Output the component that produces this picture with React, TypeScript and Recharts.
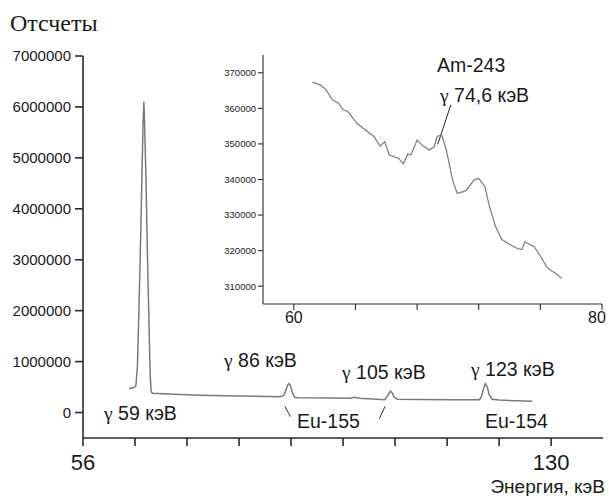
import React from 'react';
import { LineChart, Line, XAxis, YAxis, ReferenceLine } from 'recharts';

// main spectrum (axis units as printed, 56..130)
const energy = [
  63.26, 63.89, 64.36, 64.6, 64.84, 65.07, 65.31, 65.5, 65.62, 65.73, 65.97, 66.2, 66.44, 66.63, 66.79, 67.0,
  70.5, 74.46, 80.77, 87.08, 87.71, 88.02, 88.34, 88.58, 88.81, 89.13, 89.45, 89.92, 94.97, 98.13, 98.92,
  99.7, 103.65, 104.12, 104.6, 104.91, 105.2, 105.7, 109.17, 113.9, 118.64, 118.95, 119.27, 119.59, 119.9,
  120.22, 120.69, 121.8, 127.0,
];
const counts = [
  470000, 480000, 520000, 900000, 2000000, 3200000, 4600000, 5700000, 6100000, 5700000, 4500000, 3000000,
  1700000, 700000, 400000, 380000, 360000, 340000, 325000, 310000, 330000, 420000, 540000, 570000, 520000,
  380000, 300000, 290000, 285000, 280000, 300000, 280000, 250000, 320000, 420000, 380000, 300000, 260000,
  255000, 250000, 250000, 300000, 450000, 570000, 500000, 350000, 260000, 245000, 220000,
];

// inset: zoom on the Am-243 region
const insetEnergy = [
  61.2, 61.7, 62.1, 62.5, 62.9, 63.2, 63.5, 64.1, 64.5, 65.2, 65.6, 65.9, 66.2, 66.8, 67.1, 67.4, 67.6, 68.0,
  68.4, 68.8, 69.1, 69.3, 69.6, 69.9, 70.3, 70.6, 71.0, 71.2, 71.7, 72.0, 72.4, 72.7, 73.1, 73.5, 74.0, 74.5,
  74.8, 75.0, 75.6, 76.0, 76.4, 76.6, 77.0, 77.4,
];
const insetCounts = [
  367400, 366600, 365200, 362400, 361500, 359600, 359100, 355800, 354400, 352100, 349400, 350600, 346900,
  346000, 344400, 347200, 346900, 351100, 349400, 348300, 349200, 352100, 352500, 348300, 339900, 336100,
  336600, 337000, 339900, 340300, 338000, 332300, 326700, 323100, 321800, 320600, 320300, 322500, 321100,
  318500, 315500, 314700, 313600, 312200,
];

const mainXTicks = [56, 64.22, 72.44, 80.67, 88.89, 97.11, 105.33, 113.56, 121.78, 130];
const mainXLabels = [56, 130];
const mainYTicks = [0, 1000000, 2000000, 3000000, 4000000, 5000000, 6000000, 7000000];
const mainYMinor = [500000, 1500000, 2500000, 3500000, 4500000, 5500000, 6500000];
const insetXTicks = [60, 64, 68, 72, 76, 80];
const insetXMinor = [58, 62, 66, 70, 74, 78];
const insetXLabels = [60, 80];
const insetYTicks = [310000, 320000, 330000, 340000, 350000, 360000, 370000];
const insetYMinor = [315000, 325000, 335000, 345000, 355000, 365000];

const mainData = energy.map((e, i) => ({ energy: e, counts: counts[i] }));
const insetData = insetEnergy.map((e, i) => ({ energy: e, counts: insetCounts[i] }));

const SANS = '"Liberation Sans", Arial, sans-serif';
const SERIF = '"Liberation Serif", "Times New Roman", serif';
const AXIS = '#2a2a2a';
const INK = '#1a1a1a';

const MAIN_X = [56, 138.2];
const MAIN_Y = [-500000, 7000000];
const INSET_X = [58, 80];
const INSET_Y = [305000, 375000];

// label-only ticks; the marks come from recharts' own tickLine
const MainYLabel = (props: any) => (
  <text x={props.x - 4} y={props.y} dy="0.36em" textAnchor="end" fontSize={15} fontFamily={SANS} fill={INK}>
    {props.payload.value}
  </text>
);

const MainXLabel = (props: any) => {
  const v = props.payload.value;
  if (!mainXLabels.some((l) => Math.abs(l - v) < 0.01)) return <g />;
  return (
    <text x={props.x} y={props.y + 16} dy="0.36em" textAnchor="middle" fontSize={22} fontFamily={SANS} fill={INK}>
      {Math.round(v)}
    </text>
  );
};

const InsetYLabel = (props: any) => (
  <text x={props.x - 2} y={props.y} dy="0.36em" textAnchor="end" fontSize={9.5} fontFamily={SANS} fill={INK}>
    {props.payload.value}
  </text>
);

const InsetXLabel = (props: any) => {
  const v = props.payload.value;
  if (!insetXLabels.includes(v)) return <g />;
  return (
    <text
      x={v === 80 ? props.x - 5 : props.x}
      y={props.y + 7}
      dy="0.36em"
      textAnchor="middle"
      fontSize={16}
      fontFamily={SANS}
      fill={INK}
    >
      {v}
    </text>
  );
};

const Gamma = () => <tspan fontFamily={SERIF}>γ</tspan>;

const Note = ({ x, y, size = 19.5, anchor = 'start', children }: any) => (
  <text x={x} y={y} dy="0.36em" textAnchor={anchor} fontSize={size} fontFamily={SANS} fill={INK}>
    {children}
  </text>
);

export default function App() {
  return (
    <div style={{ position: 'absolute', left: 0, top: 0, width: 609, height: 496 }}>
      <svg width={609} height={496} style={{ position: 'absolute', left: 0, top: 0 }}>
        <text x={10} y={22} dy="0.36em" fontSize={24} fontFamily={SERIF} fill={INK}>
          Отсчеты
        </text>
        <Note x={104} y={413}>
          <Gamma /> 59 кэВ
        </Note>
        <Note x={224} y={360}>
          <Gamma /> 86 кэВ
        </Note>
        <Note x={342} y={372}>
          <Gamma /> 105 кэВ
        </Note>
        <Note x={471} y={369}>
          <Gamma /> 123 кэВ
        </Note>
        <Note x={297} y={421}>Eu-155</Note>
        <Note x={485} y={421}>Eu-154</Note>
        <Note x={437} y={65}>Am-243</Note>
        <Note x={440} y={95}>
          <Gamma /> 74,6 кэВ
        </Note>
        <Note x={605} y={486} size={19} anchor="end">
          Энергия, кэВ
        </Note>
      </svg>

      <div style={{ position: 'absolute', left: 0, top: 0 }}>
        <LineChart width={609} height={496} data={mainData} margin={{ top: 56, right: 6, left: 0, bottom: 0 }}>
          {/* minor ticks first, zero size, so they sit on the plot edge */}
          <XAxis
            xAxisId="minor"
            dataKey="energy"
            type="number"
            domain={MAIN_X}
            ticks={[]}
            tick={false}
            tickLine={false}
            axisLine={false}
            height={0}
          />
          <YAxis
            yAxisId="minor"
            type="number"
            domain={MAIN_Y}
            ticks={mainYMinor}
            interval={0}
            tick={false}
            tickSize={5}
            tickLine={{ stroke: AXIS, strokeWidth: 1.6 }}
            axisLine={false}
            width={0}
          />
          <XAxis
            dataKey="energy"
            type="number"
            domain={MAIN_X}
            ticks={mainXTicks}
            interval={0}
            tick={<MainXLabel />}
            tickSize={8}
            tickMargin={0}
            tickLine={{ stroke: AXIS, strokeWidth: 1.6 }}
            axisLine={{ stroke: AXIS, strokeWidth: 1.6 }}
            height={58}
          />
          <YAxis
            type="number"
            domain={MAIN_Y}
            ticks={mainYTicks}
            interval={0}
            tick={<MainYLabel />}
            tickSize={8}
            tickMargin={0}
            tickLine={{ stroke: AXIS, strokeWidth: 1.6 }}
            axisLine={{ stroke: AXIS, strokeWidth: 1.6 }}
            width={83}
          />
          <ReferenceLine
            segment={[{ x: 87.9, y: 120000 }, { x: 88.8, y: -80000 }]}
            stroke={AXIS}
            strokeWidth={1}
            ifOverflow="visible"
          />
          <ReferenceLine
            segment={[{ x: 103.75, y: 120000 }, { x: 102.85, y: -120000 }]}
            stroke={AXIS}
            strokeWidth={1}
            ifOverflow="visible"
          />
          <Line
            dataKey="counts"
            type="linear"
            stroke="#7a7a7a"
            strokeWidth={1.5}
            dot={false}
            isAnimationActive={false}
          />
        </LineChart>
      </div>

      <div style={{ position: 'absolute', left: 200, top: 45 }}>
        <LineChart width={409} height={290} data={insetData} margin={{ top: 10, right: 7, left: 0, bottom: 0 }}>
          <XAxis
            xAxisId="minor"
            dataKey="energy"
            type="number"
            domain={INSET_X}
            ticks={insetXMinor}
            interval={0}
            tick={false}
            tickSize={3}
            tickLine={{ stroke: AXIS, strokeWidth: 1.1 }}
            axisLine={false}
            height={0}
          />
          <YAxis
            yAxisId="minor"
            type="number"
            domain={INSET_Y}
            ticks={insetYMinor}
            interval={0}
            tick={false}
            tickSize={3}
            tickLine={{ stroke: AXIS, strokeWidth: 1.1 }}
            axisLine={false}
            width={0}
          />
          <XAxis
            dataKey="energy"
            type="number"
            domain={INSET_X}
            ticks={insetXTicks}
            interval={0}
            tick={<InsetXLabel />}
            tickSize={6}
            tickMargin={0}
            tickLine={{ stroke: AXIS, strokeWidth: 1.1 }}
            axisLine={{ stroke: AXIS, strokeWidth: 1.1 }}
            height={31}
          />
          <YAxis
            type="number"
            domain={INSET_Y}
            ticks={insetYTicks}
            interval={0}
            tick={<InsetYLabel />}
            tickSize={5}
            tickMargin={0}
            tickLine={{ stroke: AXIS, strokeWidth: 1.1 }}
            axisLine={{ stroke: AXIS, strokeWidth: 1.1 }}
            width={63}
          />
          <ReferenceLine
            segment={[{ x: 70.19, y: 361000 }, { x: 69.34, y: 349900 }]}
            stroke={AXIS}
            strokeWidth={1}
            ifOverflow="visible"
          />
          <Line
            dataKey="counts"
            type="linear"
            stroke="#7a7a7a"
            strokeWidth={1.2}
            dot={false}
            isAnimationActive={false}
          />
        </LineChart>
      </div>
    </div>
  );
}
